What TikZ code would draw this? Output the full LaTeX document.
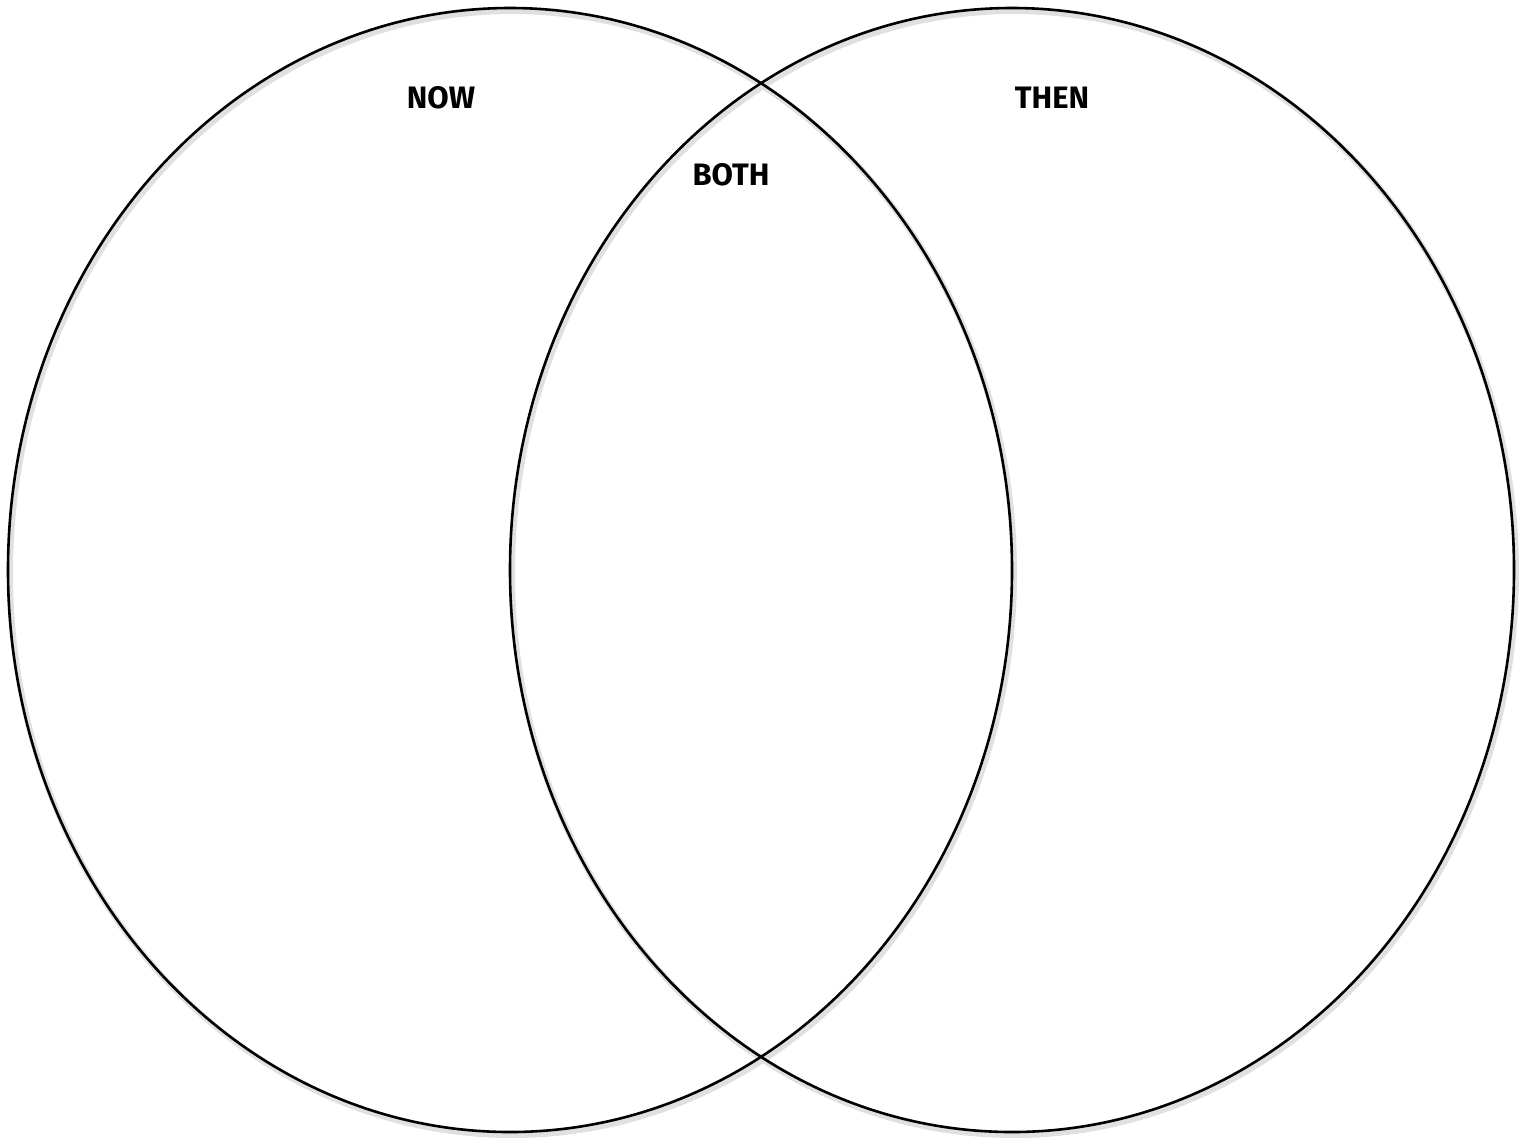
\documentclass[tikz,border=0pt]{standalone}
\usepackage{fontspec}
\setmainfont{Fira Sans}
\tikzset{
  vennring/.style={draw=black, line width=1.3pt},
  vennshadow/.style={draw=black!12, line width=3pt},
  vennlabel/.style={font=\bfseries\fontsize{15.5}{18}\selectfont, inner sep=0pt}
}
\begin{document}
\begin{tikzpicture}[x=0.5pt,y=-0.5pt]
  \useasboundingbox (0,0) rectangle (1530,1137);
  \fill[white] (0,0) rectangle (1530,1137);
  % soft shadows
  \draw[vennshadow] (512,573) ellipse [x radius=502, y radius=562];
  \draw[vennshadow] (1014,573) ellipse [x radius=502, y radius=562];
  % rings
  \draw[vennring] (510,570) ellipse [x radius=502, y radius=562];
  \draw[vennring] (1012,570) ellipse [x radius=502, y radius=562];
  % labels
  \node[vennlabel] (now) at (441,98) {NOW};
  \node[vennlabel] (then) at (1052,98) {THEN};
  \node[vennlabel] (both) at (731,175) {BOTH};
\end{tikzpicture}
\end{document}
